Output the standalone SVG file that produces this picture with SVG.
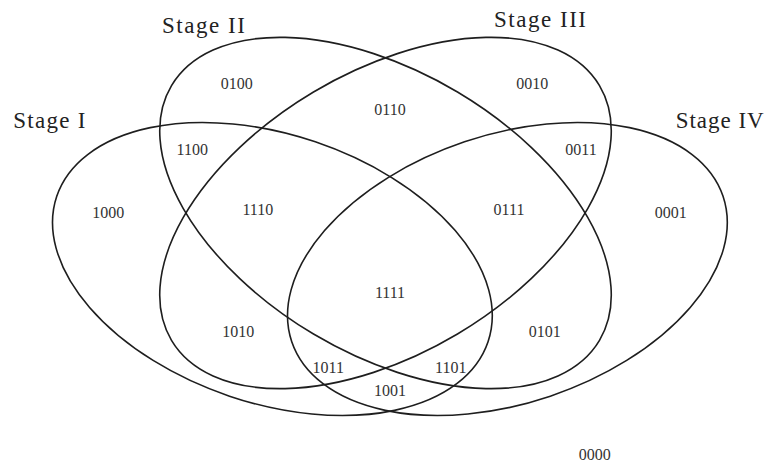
<svg xmlns="http://www.w3.org/2000/svg" width="768" height="465" viewBox="0 0 768 465">
  <style>
    .set { fill: none; stroke: #1e1e1e; stroke-width: 1.6; }
    .title { font-family: "Liberation Serif", "Times New Roman", serif; font-size: 23px; fill: #222; }
    .region { font-family: "Liberation Serif", "Times New Roman", serif; font-size: 16px; fill: #333; text-anchor: middle; }
  </style>
  <rect width="768" height="465" fill="#ffffff"/>
  <g id="stage-1">
    <ellipse class="set" cx="272.4" cy="269" rx="227.6" ry="134.2" transform="rotate(18.65 272.4 269)"/>
    <text class="title" x="13.3" y="128.3" textLength="72" lengthAdjust="spacing">Stage I</text>
  </g>
  <g id="stage-2">
    <ellipse class="set" cx="385.5" cy="213" rx="249" ry="140.8" transform="rotate(30.75 385.5 213)"/>
    <text class="title" x="162" y="33.3" textLength="83" lengthAdjust="spacing">Stage II</text>
  </g>
  <g id="stage-3">
    <ellipse class="set" cx="385.5" cy="213" rx="249" ry="140.8" transform="rotate(-30.75 385.5 213)"/>
    <text class="title" x="494" y="26.7" textLength="92" lengthAdjust="spacing">Stage III</text>
  </g>
  <g id="stage-4">
    <ellipse class="set" cx="507.4" cy="269" rx="227.6" ry="134.2" transform="rotate(-18.65 507.4 269)"/>
    <text class="title" x="675.7" y="128.3" textLength="88" lengthAdjust="spacing">Stage IV</text>
  </g>
  <g id="regions">
    <text class="region" x="236.7" y="89.3">0100</text>
    <text class="region" x="532.3" y="89.3">0010</text>
    <text class="region" x="390" y="115">0110</text>
    <text class="region" x="192.3" y="155">1100</text>
    <text class="region" x="581" y="155">0011</text>
    <text class="region" x="108.3" y="218.3">1000</text>
    <text class="region" x="257.8" y="215">1110</text>
    <text class="region" x="509" y="215">0111</text>
    <text class="region" x="670.7" y="218.3">0001</text>
    <text class="region" x="390" y="298">1111</text>
    <text class="region" x="238.3" y="337">1010</text>
    <text class="region" x="544.7" y="337">0101</text>
    <text class="region" x="328.3" y="372.7">1011</text>
    <text class="region" x="450.7" y="372.7">1101</text>
    <text class="region" x="390" y="396.3">1001</text>
    <text class="region" x="594.8" y="459.7">0000</text>
  </g>
</svg>
